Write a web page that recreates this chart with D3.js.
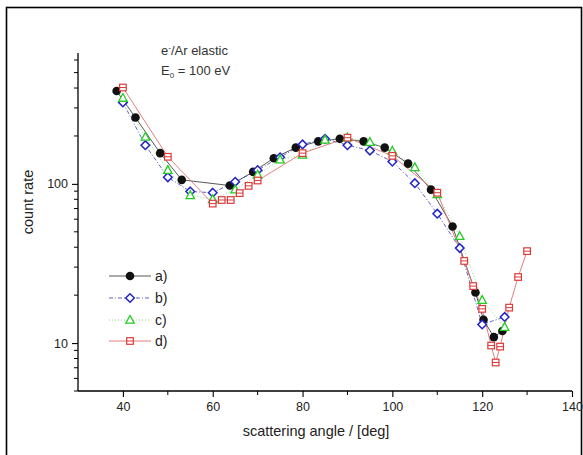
<!DOCTYPE html>
<html><head><meta charset="utf-8">
<script src="https://cdn.jsdelivr.net/npm/d3@7"></script>
<style>body{margin:0;background:#fff;} svg{display:block;font-family:"Liberation Sans",Arial,sans-serif;}</style>
</head><body><svg id="c" width="583" height="455"></svg>
<script>
// series a) black filled circles
const aX = [38.6,42.8,48.3,53.1,63.8,69.0,73.6,78.5,83.5,88.3,93.6,98.3,103.5,108.6,113.4,118.5,120.3,122.6,124.5];
const aY = [383,261,156,106,97.6,119,145,169,185,192,185,169,134,92,54,20.8,14.0,10.9,11.9];
// series b) blue open diamonds
const bX = [40,45,50,55,60,65,70,75,80,85,90,95,100,105,110,115,120,125];
const bY = [325,175,110,89.6,88,103,122,147,177,192,175,162,138,101,65,39.5,13.1,14.6];
// series c) green open triangles
const cX = [40,45,50,55,60,65,70,75,80,85,90,95,100,105,110,115,120,125];
const cY = [346,197,122,84.7,80,92,114,142,152,189,195,183,161,127,86,46.9,18.6,12.6];
// series d) red squares
const dX = [40,50,60,62,64,66,68,70,80,90,100,110,116,118,120,122,123,124,126,128,130];
const dY = [403,148,75.2,79.2,79.2,87.5,97.2,105,156,195,150,88,32.8,22.8,16.4,9.65,7.55,9.5,16.7,26,37.8];
const seriesNames = ["a)","b)","c)","d)"];
const xTicks = [40,60,80,100,120,140];
const xMinor = [50,70,90,110,130];
const yTicks = [10,100];
const yMinor = [5,6,7,8,9,20,30,40,50,60,70,80,90,200,300,400,500,600];

const svg = d3.select("#c");
const x = d3.scaleLinear().domain([30,140]).range([78,572]);
const y = d3.scaleLog().domain([5,600]).range([391,60]);

// frame
svg.append("rect").attr("x",6.5).attr("y",7.5).attr("width",575).attr("height",470)
  .attr("fill","none").attr("stroke","#000").attr("stroke-width",1.6);

// axes
const xAxis = svg.append("g").attr("transform","translate(0,391)")
  .call(d3.axisBottom(x).tickValues(xTicks).tickSize(6).tickPadding(5).tickFormat(d3.format("d")));
xAxis.append("g").selectAll("line").data(xMinor).join("line")
  .attr("x1",d=>x(d)).attr("x2",d=>x(d)).attr("y1",0).attr("y2",4).attr("stroke","#000");
const yAxis = svg.append("g").attr("transform","translate(78,0)")
  .call(d3.axisLeft(y).tickValues(yTicks).tickSize(6).tickPadding(4).tickFormat(d3.format("d")));
yAxis.append("g").selectAll("line").data(yMinor).join("line")
  .attr("y1",d=>y(d)).attr("y2",d=>y(d)).attr("x1",0).attr("x2",-4).attr("stroke","#000");
[xAxis,yAxis].forEach(g=>{
  g.select(".domain").attr("stroke","#000").attr("stroke-width",1.3);
  g.selectAll(".tick line").attr("stroke","#000").attr("stroke-width",1.1);
  g.selectAll("text").attr("font-size",12.5).attr("fill","#222").attr("font-family","Liberation Sans, Arial, sans-serif");
});
xAxis.select(".domain").attr("d","M78,0H572");
yAxis.select(".domain").attr("d","M0,391V53");

// labels
svg.append("text").attr("x",316).attr("y",436).attr("text-anchor","middle")
  .attr("font-size",14.5).attr("fill","#222").text("scattering angle / [deg]");
svg.append("text").attr("transform","translate(33,202) rotate(-90)").attr("text-anchor","middle")
  .attr("font-size",14.5).attr("fill","#222").text("count rate");
const ann = svg.append("text").attr("x",161).attr("y",55).attr("font-size",13).attr("fill","#333");
ann.append("tspan").text("e");
ann.append("tspan").attr("dy",-5).attr("font-size",8).text("-");
ann.append("tspan").attr("dy",5).text("/Ar elastic");
const ann2 = svg.append("text").attr("x",161).attr("y",75).attr("font-size",13).attr("fill","#333");
ann2.append("tspan").text("E");
ann2.append("tspan").attr("dy",3).attr("font-size",8).text("0");
ann2.append("tspan").attr("dy",-3).text(" = 100 eV");

const styles = [
  {c:"#111", line:"#444", dash:null, w:0.9, m:"circle"},
  {c:"#2323c8", line:"#3a3ab0", dash:"4,2,1,2", w:0.8, m:"diamond"},
  {c:"#22cc22", line:"#7fd67f", dash:"1,2", w:0.9, m:"triangle"},
  {c:"#dd3a3a", line:"#e07070", dash:null, w:0.9, m:"square"}
];
const data = [[aX,aY],[bX,bY],[cX,cY],[dX,dY]].map(([xs,ys])=>xs.map((v,i)=>[v,ys[i]]));
const line = d3.line().x(d=>x(d[0])).y(d=>y(d[1]));

function marker(g, type, s){
  if(type==="circle") g.append("circle").attr("r",4.3).attr("fill",s.c);
  else if(type==="diamond") g.append("path").attr("d","M0,-4.3L4.3,0L0,4.3L-4.3,0Z").attr("fill","#fff").attr("stroke",s.c).attr("stroke-width",1.5);
  else if(type==="triangle") g.append("path").attr("d","M0,-4.5L4.2,3.2L-4.2,3.2Z").attr("fill","#fff").attr("stroke",s.c).attr("stroke-width",1.3);
  else {
    g.append("rect").attr("x",-3.3).attr("y",-3.3).attr("width",6.6).attr("height",6.6).attr("fill","#fff").attr("stroke",s.c).attr("stroke-width",1.2);
    g.append("line").attr("x1",-3.3).attr("x2",3.3).attr("y1",0).attr("y2",0).attr("stroke",s.c).attr("stroke-width",1);
  }
}

data.forEach((pts,k)=>{
  const s = styles[k];
  svg.append("path").datum(pts).attr("d",line).attr("fill","none").attr("stroke",s.line)
    .attr("stroke-width",s.w).attr("stroke-dasharray",s.dash);
});
data.forEach((pts,k)=>{
  const s = styles[k];
  pts.forEach(p=>{
    const g = svg.append("g").attr("transform",`translate(${x(p[0])},${y(p[1])})`);
    marker(g, s.m, s);
  });
});

// legend
const legY = [276,298,320,341];
seriesNames.forEach((nm,k)=>{
  const s = styles[k];
  svg.append("line").attr("x1",109).attr("x2",151).attr("y1",legY[k]).attr("y2",legY[k])
    .attr("stroke",s.line).attr("stroke-width",s.w).attr("stroke-dasharray",s.dash);
  const g = svg.append("g").attr("transform",`translate(130,${legY[k]})`);
  marker(g, s.m, s);
  svg.append("text").attr("x",155).attr("y",legY[k]+5).attr("font-size",14).attr("fill","#222").text(nm);
});
</script></body></html>
